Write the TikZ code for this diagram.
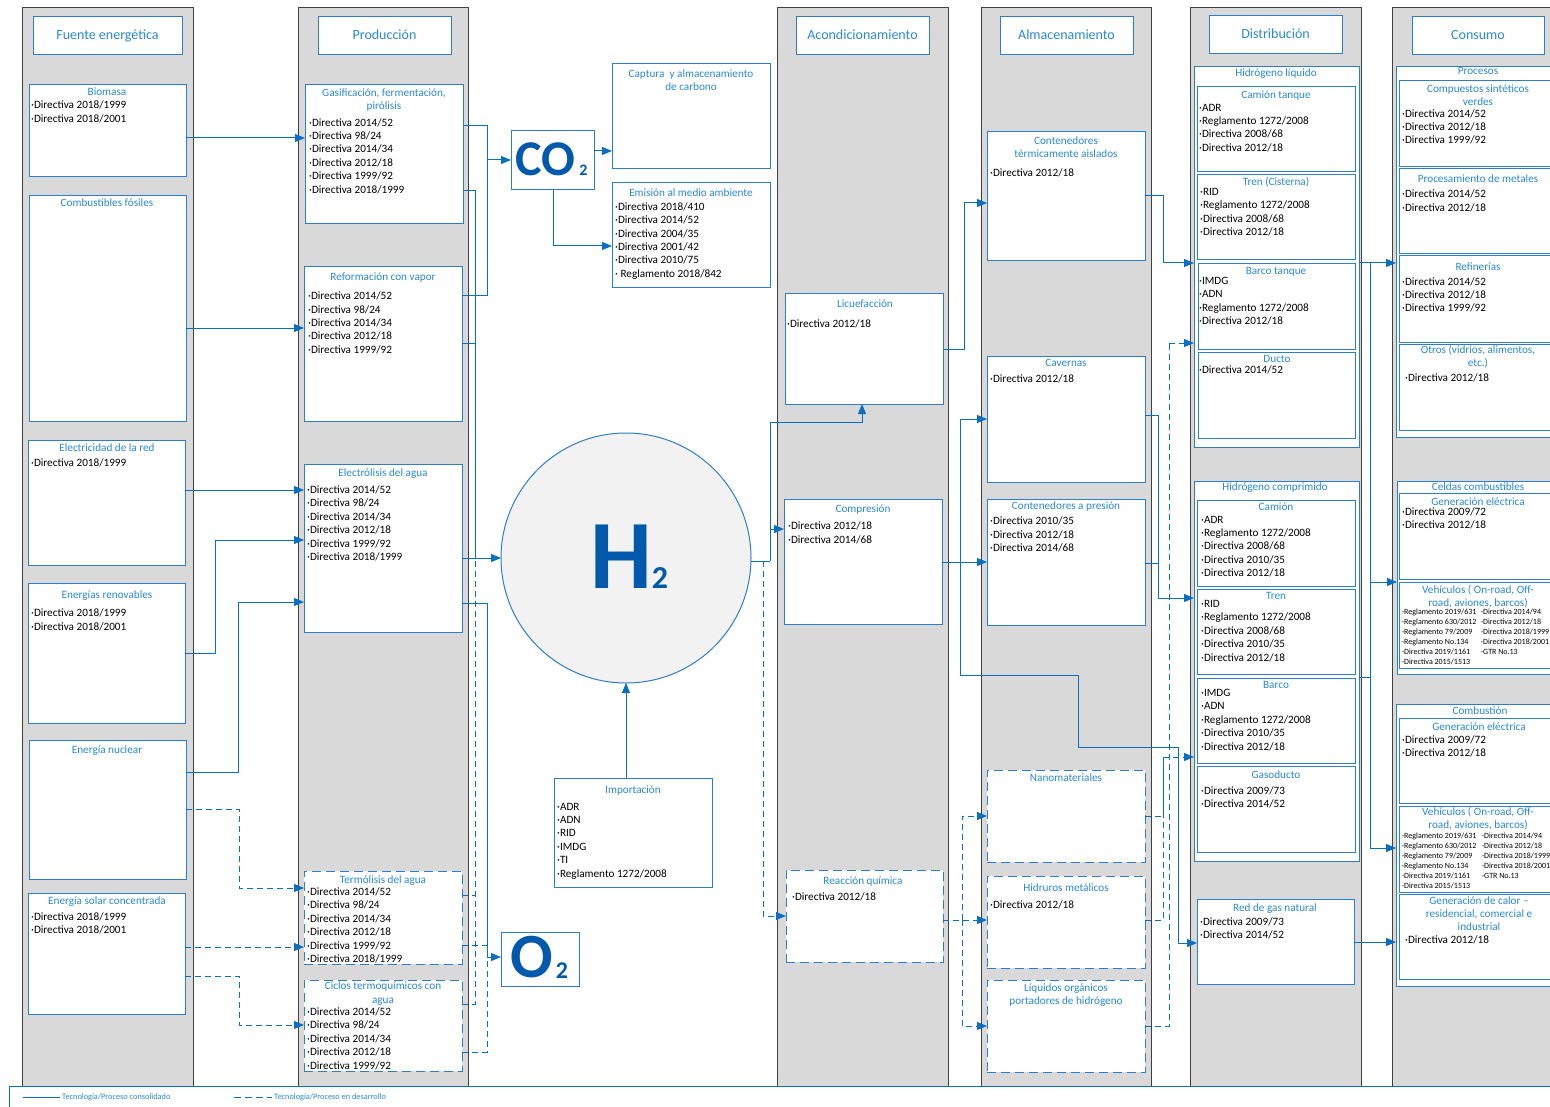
\documentclass[tikz,border=0pt]{standalone}
\usepackage{fontspec}
\setmainfont{Carlito}
\usetikzlibrary{arrows.meta}
\definecolor{colgray}{HTML}{D9D9D9}
\definecolor{colline}{HTML}{404040}
\definecolor{boxblue}{HTML}{2E7DC8}
\definecolor{ttlblue}{HTML}{2A89D4}
\definecolor{conblue}{HTML}{0A6FC2}
\definecolor{chemblue}{HTML}{0059AB}
\definecolor{circfill}{HTML}{F2F2F2}
\tikzset{
 colbox/.style={draw=colline, fill=colgray, line width=1pt, inner sep=0pt, outer sep=0pt},
 box/.style={draw=boxblue, fill=white, line width=1pt, inner sep=0pt, outer sep=0pt},
 dbox/.style={box, dash pattern=on 9pt off 5pt},
 hdr/.style={font=\fontsize{14}{16}\selectfont, text=ttlblue, inner sep=0pt, text height=10pt, text depth=2pt},
 ttlone/.style={font=\fontsize{11.2}{13.2}\selectfont, text=ttlblue, inner sep=0pt, text height=7.8pt, text depth=1pt},
 ttlmulti/.style={font=\fontsize{11.2}{13.2}\selectfont, text=ttlblue, align=center, inner sep=0pt},
 itm/.style={font=\fontsize{11.2}{13.4}\selectfont, align=left, inner sep=0pt, anchor=north west},
 sitm/.style={font=\fontsize{8}{10}\selectfont, align=left, inner sep=0pt, anchor=north west},
 lgd/.style={font=\fontsize{8.3}{9}\selectfont, text=ttlblue, inner sep=0pt},
 chem/.style={text=chemblue, inner sep=0pt, anchor=base},
 conn/.style={draw=conblue, line width=1pt},
 dconn/.style={conn, dash pattern=on 6pt off 4pt},
 arr/.style={-{Triangle[length=10pt,width=8pt]}},
}
\newcommand\mkbox[6][box]{\node[#1,anchor=north west,minimum width={#5pt-#3pt},minimum height={#6pt-#4pt}] (#2) at (#3,#4) {};}
\newcommand\mkttl[4]{\node[ttlone] (#1) at (#2,#3) {#4};}
\newcommand\mkttlm[4]{\node[ttlmulti] (#1) at (#2,#3) {#4};}
\newcommand\mkitm[4]{\node[itm] (#1) at (#2,{#3-3.6}) {#4};}
\newcommand\mksitm[4]{\node[sitm] (#1) at (#2,{#3-3.0}) {#4};}
\begin{document}
\begin{tikzpicture}[x=1pt,y=-1pt]
\useasboundingbox (0,0) rectangle (1550,1107);
\fill[white] (0,0) rectangle (1550,1107);
\clip (0,0) rectangle (1550,1107);
% columns
\mkbox[colbox]{col1}{22}{8}{193}{1086}
\mkbox[colbox]{col2}{298}{8}{468}{1086}
\mkbox[colbox]{col3}{777}{8}{948}{1086}
\mkbox[colbox]{col4}{981}{8}{1151}{1086}
\mkbox[colbox]{col5}{1190}{8}{1361}{1086}
\mkbox[colbox]{col6}{1392}{8}{1600}{1086}
% headers
\mkbox{hd1}{33}{17}{182}{55}\node[hdr] (hd1t) at (hd1.center) {Fuente energética};
\mkbox{hd2}{318}{17}{451}{55}\node[hdr] (hd2t) at (hd2.center) {Producción};
\mkbox{hd3}{796}{17}{929}{55}\node[hdr] (hd3t) at (hd3.center) {Acondicionamiento};
\mkbox{hd4}{1000}{17}{1133}{55}\node[hdr] (hd4t) at (hd4.center) {Almacenamiento};
\mkbox{hd5}{1209}{16}{1342}{54}\node[hdr] (hd5t) at (hd5.center) {Distribución};
\mkbox{hd6}{1412}{17}{1544}{55}\node[hdr] (hd6t) at (hd6.center) {Consumo};
% Fuente energetica
\mkbox{biomasa}{29}{85}{186}{177}
\mkttl{biomasa-t}{107}{92.3}{Biomasa}
\mkitm{biomasa-i}{31}{104.3}{·Directiva 2018/1999\\·Directiva 2018/2001}
\mkbox{comb}{29}{196}{186}{421}
\mkttl{comb-t}{107}{203.3}{Combustibles fósiles}
\mkbox{elec}{28}{440}{185}{565}
\mkttl{elec-t}{107}{448}{Electricidad de la red}
\mkitm{elec-i}{31}{462}{·Directiva 2018/1999}
\mkbox{renov}{28}{583}{185}{723}
\mkttl{renov-t}{107}{595.4}{Energías renovables}
\mkitm{renov-i}{31}{612.6}{·Directiva 2018/1999\\·Directiva 2018/2001}
\mkbox{nuc}{29}{740}{186}{879}
\mkttl{nuc-t}{107}{750.4}{Energía nuclear}
\mkbox{solar}{28}{893}{185}{1014}
\mkttl{solar-t}{107}{901.5}{Energía solar concentrada}
\mkitm{solar-i}{31}{916.2}{·Directiva 2018/1999\\·Directiva 2018/2001}
% Produccion
\mkbox{gasif}{305}{85}{463}{224}
\mkttlm{gasif-t}{384}{100}{Gasificación, fermentación,\\pirólisis}
\mkitm{gasif-i}{309}{121.7}{·Directiva 2014/52\\·Directiva 98/24\\·Directiva 2014/34\\·Directiva 2012/18\\·Directiva 1999/92\\·Directiva 2018/1999}
\mkbox{reform}{304}{267}{462}{421}
\mkttl{reform-t}{383}{277.3}{Reformación con vapor}
\mkitm{reform-i}{308}{295.3}{·Directiva 2014/52\\·Directiva 98/24\\·Directiva 2014/34\\·Directiva 2012/18\\·Directiva 1999/92}
\mkbox{electro}{304}{464}{462}{632}
\mkttl{electro-t}{383}{473.2}{Electrólisis del agua}
\mkitm{electro-i}{307}{489.2}{·Directiva 2014/52\\·Directiva 98/24\\·Directiva 2014/34\\·Directiva 2012/18\\·Directiva 1999/92\\·Directiva 2018/1999}
\mkbox[dbox]{termo}{304}{871}{462}{964}
\mkttl{termo-t}{383}{880.3}{Termólisis del agua}
\mkitm{termo-i}{307}{891.1}{·Directiva 2014/52\\·Directiva 98/24\\·Directiva 2014/34\\·Directiva 2012/18\\·Directiva 1999/92\\·Directiva 2018/1999}
\mkbox[dbox]{ciclos}{304}{980}{462}{1071}
\mkttlm{ciclos-t}{383}{993.5}{Ciclos termoquímicos con\\agua}
\mkitm{ciclos-i}{307}{1011.2}{·Directiva 2014/52\\·Directiva 98/24\\·Directiva 2014/34\\·Directiva 2012/18\\·Directiva 1999/92}
% CO2, H2, O2
\mkbox{co2box}{511}{131}{594}{190}
\node[chem, font=\fontsize{50}{50}\selectfont\bfseries] (co2-t) at (545.5,176) {CO};
\node[chem, font=\fontsize{16}{16}\selectfont\bfseries] (co2-s) at (583.5,175.5) {2};
\mkbox{captura}{612}{64}{770}{169}
\mkttlm{captura-t}{691}{80}{Captura\ \ y almacenamiento\\de carbono}
\mkbox{emision}{612}{183}{770}{288}
\mkttl{emision-t}{691}{192.7}{Emisión al medio ambiente}
\mkitm{emision-i}{615}{206}{·Directiva 2018/410\\·Directiva 2014/52\\·Directiva 2004/35\\·Directiva 2001/42\\·Directiva 2010/75\\· Reglamento 2018/842}
\node[circle, draw=boxblue, fill=circfill, line width=1pt, minimum size=250pt, inner sep=0pt, outer sep=0pt] (h2) at (626,558) {};
\node[chem, font=\fontsize{98}{98}\selectfont\bfseries] (h2-t) at (621,588) {H};
\node[chem, font=\fontsize{32}{32}\selectfont\bfseries] (h2-s) at (660,588) {2};
\mkbox{import}{554}{778}{712}{887}
\mkttl{import-t}{633}{789.7}{Importación}
\mkitm{import-i}{557}{806.3}{·ADR\\·ADN\\·RID\\·IMDG\\·TI\\·Reglamento 1272/2008}
\mkbox{o2box}{501}{932}{579}{986}
\node[chem, font=\fontsize{63}{63}\selectfont\bfseries] (o2-t) at (531.5,977) {O};
\node[chem, font=\fontsize{24}{24}\selectfont\bfseries] (o2-s) at (562,978) {2};
% Acondicionamiento
\mkbox{licue}{785}{294}{943}{404}
\mkttl{licue-t}{865}{304.3}{Licuefacción}
\mkitm{licue-i}{787}{323.3}{·Directiva 2012/18}
\mkbox{compres}{784}{499}{942}{624}
\mkttl{compres-t}{863}{508.7}{Compresión}
\mkitm{compres-i}{788}{525.3}{·Directiva 2012/18\\·Directiva 2014/68}
\mkbox[dbox]{reacc}{786}{870}{943}{962}
\mkttl{reacc-t}{863}{881.3}{Reacción química}
\mkitm{reacc-i}{792}{895.7}{·Directiva 2012/18}
% Almacenamiento
\mkbox{cterm}{987}{132}{1145}{261}
\mkttlm{cterm-t}{1066}{147}{Contenedores\\térmicamente aislados}
\mkitm{cterm-i}{990}{172}{·Directiva 2012/18}
\mkbox{cav}{987}{356}{1145}{482}
\mkttl{cav-t}{1066}{362.7}{Cavernas}
\mkitm{cav-i}{990}{377.7}{·Directiva 2012/18}
\mkbox{cpres}{987}{499}{1145}{625}
\mkttl{cpres-t}{1066}{505.7}{Contenedores a presión}
\mkitm{cpres-i}{990}{520.3}{·Directiva 2010/35\\·Directiva 2012/18\\·Directiva 2014/68}
\mkbox[dbox]{nano}{987}{770}{1145}{862}
\mkttl{nano-t}{1066}{777.7}{Nanomateriales}
\mkbox[dbox]{hidr}{987}{876}{1145}{968}
\mkttl{hidr-t}{1066}{888.3}{Hidruros metálicos}
\mkitm{hidr-i}{990}{904.3}{·Directiva 2012/18}
\mkbox[dbox]{liq}{987}{980}{1145}{1072}
\mkttlm{liq-t}{1066}{995.2}{Líquidos orgánicos\\portadores de hidrógeno}
% Distribucion
\mkbox{hliq}{1194}{67}{1359}{447}
\mkttl{hliq-t}{1276}{73.3}{Hidrógeno líquido}
\mkbox{ctanq}{1197}{87}{1355}{172}
\mkttl{ctanq-t}{1276}{94.7}{Camión tanque}
\mkitm{ctanq-i}{1199}{107.3}{·ADR\\·Reglamento 1272/2008\\·Directiva 2008/68\\·Directiva 2012/18}
\mkbox{tcist}{1197}{175}{1355}{260}
\mkttl{tcist-t}{1276}{182.3}{Tren (Cisterna)}
\mkitm{tcist-i}{1200}{191.7}{·RID\\·Reglamento 1272/2008\\·Directiva 2008/68\\·Directiva 2012/18}
\mkbox{btanq}{1198}{264}{1355}{349}
\mkttl{btanq-t}{1276}{270.7}{Barco tanque}
\mkitm{btanq-i}{1199}{280.7}{·IMDG\\·ADN\\·Reglamento 1272/2008\\·Directiva 2012/18}
\mkbox{ducto}{1198}{352}{1355}{438}
\mkttl{ducto-t}{1277}{359.3}{Ducto}
\mkitm{ducto-i}{1199}{369.3}{·Directiva 2014/52}
\mkbox{hcomp}{1194}{481}{1359}{861}
\mkttl{hcomp-t}{1275}{487.3}{Hidrógeno comprimido}
\mkbox{camion}{1197}{500}{1355}{586}
\mkttl{camion-t}{1276}{506.7}{Camión}
\mkitm{camion-i}{1201}{519.3}{·ADR\\·Reglamento 1272/2008\\·Directiva 2008/68\\·Directiva 2010/35\\·Directiva 2012/18}
\mkbox{tren}{1197}{589}{1355}{674}
\mkttl{tren-t}{1276}{595.7}{Tren}
\mkitm{tren-i}{1201}{603.7}{·RID\\·Reglamento 1272/2008\\·Directiva 2008/68\\·Directiva 2010/35\\·Directiva 2012/18}
\mkbox{barco}{1197}{678}{1355}{763}
\mkttl{barco-t}{1276}{684.7}{Barco}
\mkitm{barco-i}{1201}{692.7}{·IMDG\\·ADN\\·Reglamento 1272/2008\\·Directiva 2010/35\\·Directiva 2012/18}
\mkbox{gasod}{1197}{766}{1355}{852}
\mkttl{gasod-t}{1276}{775.3}{Gasoducto}
\mkitm{gasod-i}{1201}{789.7}{·Directiva 2009/73\\·Directiva 2014/52}
\mkbox{redgas}{1197}{899}{1354}{984}
\mkttl{redgas-t}{1275}{907.7}{Red de gas natural}
\mkitm{redgas-i}{1200}{920.7}{·Directiva 2009/73\\·Directiva 2014/52}
% Consumo
\mkbox{procesos}{1396}{67}{1600}{437}
\mkttl{procesos-t}{1478}{70.7}{Procesos}
\mkbox{csint}{1399}{81}{1600}{167}
\mkttlm{csint-t}{1478}{95}{Compuestos sintéticos\\verdes}
\mkitm{csint-i}{1402}{112.7}{·Directiva 2014/52\\·Directiva 2012/18\\·Directiva 1999/92}
\mkbox{pmet}{1399}{169}{1600}{254}
\mkttl{pmet-t}{1478}{178.7}{Procesamiento de metales}
\mkitm{pmet-i}{1402}{193.3}{·Directiva 2014/52\\·Directiva 2012/18}
\mkbox{refin}{1399}{256}{1600}{342}
\mkttl{refin-t}{1478}{266.7}{Refinerías}
\mkitm{refin-i}{1402}{280.7}{·Directiva 2014/52\\·Directiva 2012/18\\·Directiva 1999/92}
\mkbox{otros}{1399}{344}{1600}{430}
\mkttlm{otros-t}{1478}{357}{Otros (vidrios, alimentos,\\etc.)}
\mkitm{otros-i}{1405}{377.3}{·Directiva 2012/18}
\mkbox{celdas}{1397}{481}{1600}{674}
\mkttl{celdas-t}{1478}{487.3}{Celdas combustibles}
\mkbox{gelec1}{1399}{493}{1600}{579}
\mkttl{gelec1-t}{1478}{501.7}{Generación eléctrica}
\mkitm{gelec1-i}{1402}{510.7}{·Directiva 2009/72\\·Directiva 2012/18}
\mkbox{vehic1}{1399}{582}{1600}{668}
\mkttlm{vehic1-t}{1478}{597}{Vehículos ( On-road, Off-\\road, aviones, barcos)}
\mksitm{vehic1-a}{1402}{611.7}{·Reglamento 2019/631\\·Reglamento 630/2012\\·Reglamento 79/2009\\·Reglamento No.134\\·Directiva 2019/1161\\·Directiva 2015/1513}
\mksitm{vehic1-b}{1481}{611.7}{·Directiva 2014/94\\·Directiva 2012/18\\·Directiva 2018/1999\\·Directiva 2018/2001\\·GTR No.13}
\mkbox{combust}{1396}{704}{1600}{986}
\mkttl{combust-t}{1480}{710.7}{Combustión}
\mkbox{gelec2}{1399}{718}{1600}{803}
\mkttl{gelec2-t}{1479}{727.3}{Generación eléctrica}
\mkitm{gelec2-i}{1402}{738.7}{·Directiva 2009/72\\·Directiva 2012/18}
\mkbox{vehic2}{1399}{806}{1600}{892}
\mkttlm{vehic2-t}{1478}{818.7}{Vehículos ( On-road, Off-\\road, aviones, barcos)}
\mksitm{vehic2-a}{1402}{835.3}{·Reglamento 2019/631\\·Reglamento 630/2012\\·Reglamento 79/2009\\·Reglamento No.134\\·Directiva 2019/1161\\·Directiva 2015/1513}
\mksitm{vehic2-b}{1482}{835.3}{·Directiva 2014/94\\·Directiva 2012/18\\·Directiva 2018/1999\\·Directiva 2018/2001\\·GTR No.13}
\mkbox{gcalor}{1399}{894}{1600}{979}
\mkttlm{gcalor-t}{1479}{913.5}{Generación de calor –\\residencial, comercial e\\industrial}
\mkitm{gcalor-i}{1405}{938.7}{·Directiva 2012/18}
% junction coordinates
\coordinate (jr1) at (215,540);
\coordinate (jn1) at (238,602);
\coordinate (jn2) at (239,888);
\coordinate (js) at (239,1025);
\coordinate (jco2) at (487,160);
\coordinate (jh2) at (475,558);
\coordinate (jo2) at (487,957);
\coordinate (jac) at (770,561);
\coordinate (jrq) at (763,561);
\coordinate (jlq) at (862,422);
\coordinate (jl) at (964,349);
\coordinate (jc) at (960,562);
\coordinate (jg1) at (1078,675);
\coordinate (jg2) at (1178,747);
\coordinate (jr) at (962,920);
\coordinate (jt) at (1163,263);
\coordinate (jp) at (1158,598);
\coordinate (jn) at (1163,757);
\coordinate (jlo) at (1169,343);
\coordinate (jd) at (1370,263);
% Fuente -> Produccion
\draw[conn,arr] (biomasa.east |- 0,138) -- (gasif.west |- 0,138);
\draw[conn,arr] (comb.east |- 0,328) -- (reform.west |- 0,328);
\draw[conn,arr] (elec.east |- 0,490) -- (electro.west |- 0,490);
\draw[conn,arr] (renov.east |- 0,653) -| (jr1) -- (electro.west |- jr1);
\draw[conn,arr] (nuc.east |- 0,772) -| (jn1) -- (electro.west |- jn1);
\draw[dconn,arr] (nuc.east |- 0,809) -| (jn2) -- (termo.west |- jn2);
\draw[dconn,arr] (solar.east |- 0,947) -- (termo.west |- 0,947);
\draw[dconn,arr] (solar.east |- 0,976) -| (js) -- (ciclos.west |- js);
% Produccion -> CO2
\draw[conn] (gasif.east |- 0,126) -| (jco2);
\draw[conn] (reform.east |- 0,296) -| (jco2);
\draw[conn,arr] (jco2) -- (co2box.west |- jco2);
% Produccion -> H2
\draw[conn] (gasif.east |- 0,191) -| (jh2);
\draw[conn] (reform.east |- 0,343) -| (jh2);
\draw[conn,arr] (electro.east |- jh2) -- (h2.west);
\draw[dconn] (termo.east |- 0,895) -- (jh2 |- 0,895);
\draw[dconn] (ciclos.east |- 0,1004) -| (jh2);
% Produccion -> O2
\draw[conn] (electro.east |- 0,603) -| (jo2);
\draw[conn,arr] (jo2) -- (o2box.west |- jo2);
\draw[dconn] (termo.east |- 0,945) -- (jo2 |- 0,945);
\draw[dconn] (ciclos.east |- 0,1052) -| (jo2);
% CO2 outputs
\draw[conn,arr] (co2box.east |- 0,151) -- (captura.west |- 0,151);
\draw[conn,arr] (co2box.south -| 553,0) |- (emision.west |- 0,246);
% Importacion -> H2
\draw[conn,arr] (import.north -| h2.south) -- (h2.south);
% H2 -> Acondicionamiento
\draw[conn] (h2.east |- jac) -- (jac);
\draw[conn,arr] (jac) |- (compres.west |- 0,529);
\draw[conn,arr] (jac) |- (jlq) -- (licue.south -| jlq);
\draw[dconn,arr] (jrq) |- (reacc.west |- 0,916);
% Acondicionamiento -> Almacenamiento
\draw[conn,arr] (licue.east |- jl) -- (jl) |- (cterm.west |- 0,203);
\draw[conn,arr] (compres.east |- jc) -- (cpres.west |- jc);
\draw[conn,arr] (jc) |- (cav.west |- 0,419);
\draw[conn,arr] (jc) |- (jg1) |- (jg2) |- (redgas.west |- 0,943);
\draw[dconn,arr] (reacc.east |- jr) -- (hidr.west |- jr);
\draw[dconn,arr] (jr) |- (nano.west |- 0,816);
\draw[dconn,arr] (jr) |- (liq.west |- 0,1026);
% Almacenamiento -> Distribucion
\draw[conn,arr] (cterm.east |- 0,196) -| (jt) -- (hliq.west |- jt);
\draw[conn] (cav.east |- 0,415) -| (jp);
\draw[conn] (cpres.east |- 0,563) -| (jp);
\draw[conn,arr] (jp) -- (hcomp.west |- jp);
\draw[dconn] (nano.east |- 0,816) -| (jn);
\draw[dconn] (hidr.east |- 0,920) -| (jn);
\draw[dconn,arr] (jn) -- (hcomp.west |- jn);
\draw[dconn] (liq.east |- 0,1026) -| (jlo);
\draw[dconn,arr] (jlo) -- (hliq.west |- jlo);
% Distribucion -> Consumo
\draw[conn,arr] (hliq.east |- jd) -- (procesos.west |- jd);
\draw[conn,arr] (jd) |- (combust.west |- 0,848);
\draw[conn] (hcomp.east |- 0,677) -- (jd |- 0,677);
\draw[conn,arr] (jd |- 0,582) -- (celdas.west |- 0,582);
\draw[conn,arr] (redgas.east |- 0,942) -- (combust.west |- 0,942);
% legend
\node[draw=conblue, line width=1pt, anchor=north west, minimum width=1600pt, minimum height=40pt, inner sep=0pt, outer sep=0pt] (legend) at (9,1086) {};
\coordinate (lg1a) at (23,1097);
\coordinate (lg1b) at (60,1097);
\draw[conn, line width=0.7pt] (lg1a) -- (lg1b);
\node[lgd, anchor=west] (lg1t) at (62,1097) {Tecnología/Proceso consolidado};
\coordinate (lg2a) at (234,1097);
\coordinate (lg2b) at (272,1097);
\draw[conn, line width=0.7pt, dash pattern=on 7pt off 4pt] (lg2a) -- (lg2b);
\node[lgd, anchor=west] (lg2t) at (274,1097) {Tecnología/Proceso en desarrollo};
\end{tikzpicture}
\end{document}
